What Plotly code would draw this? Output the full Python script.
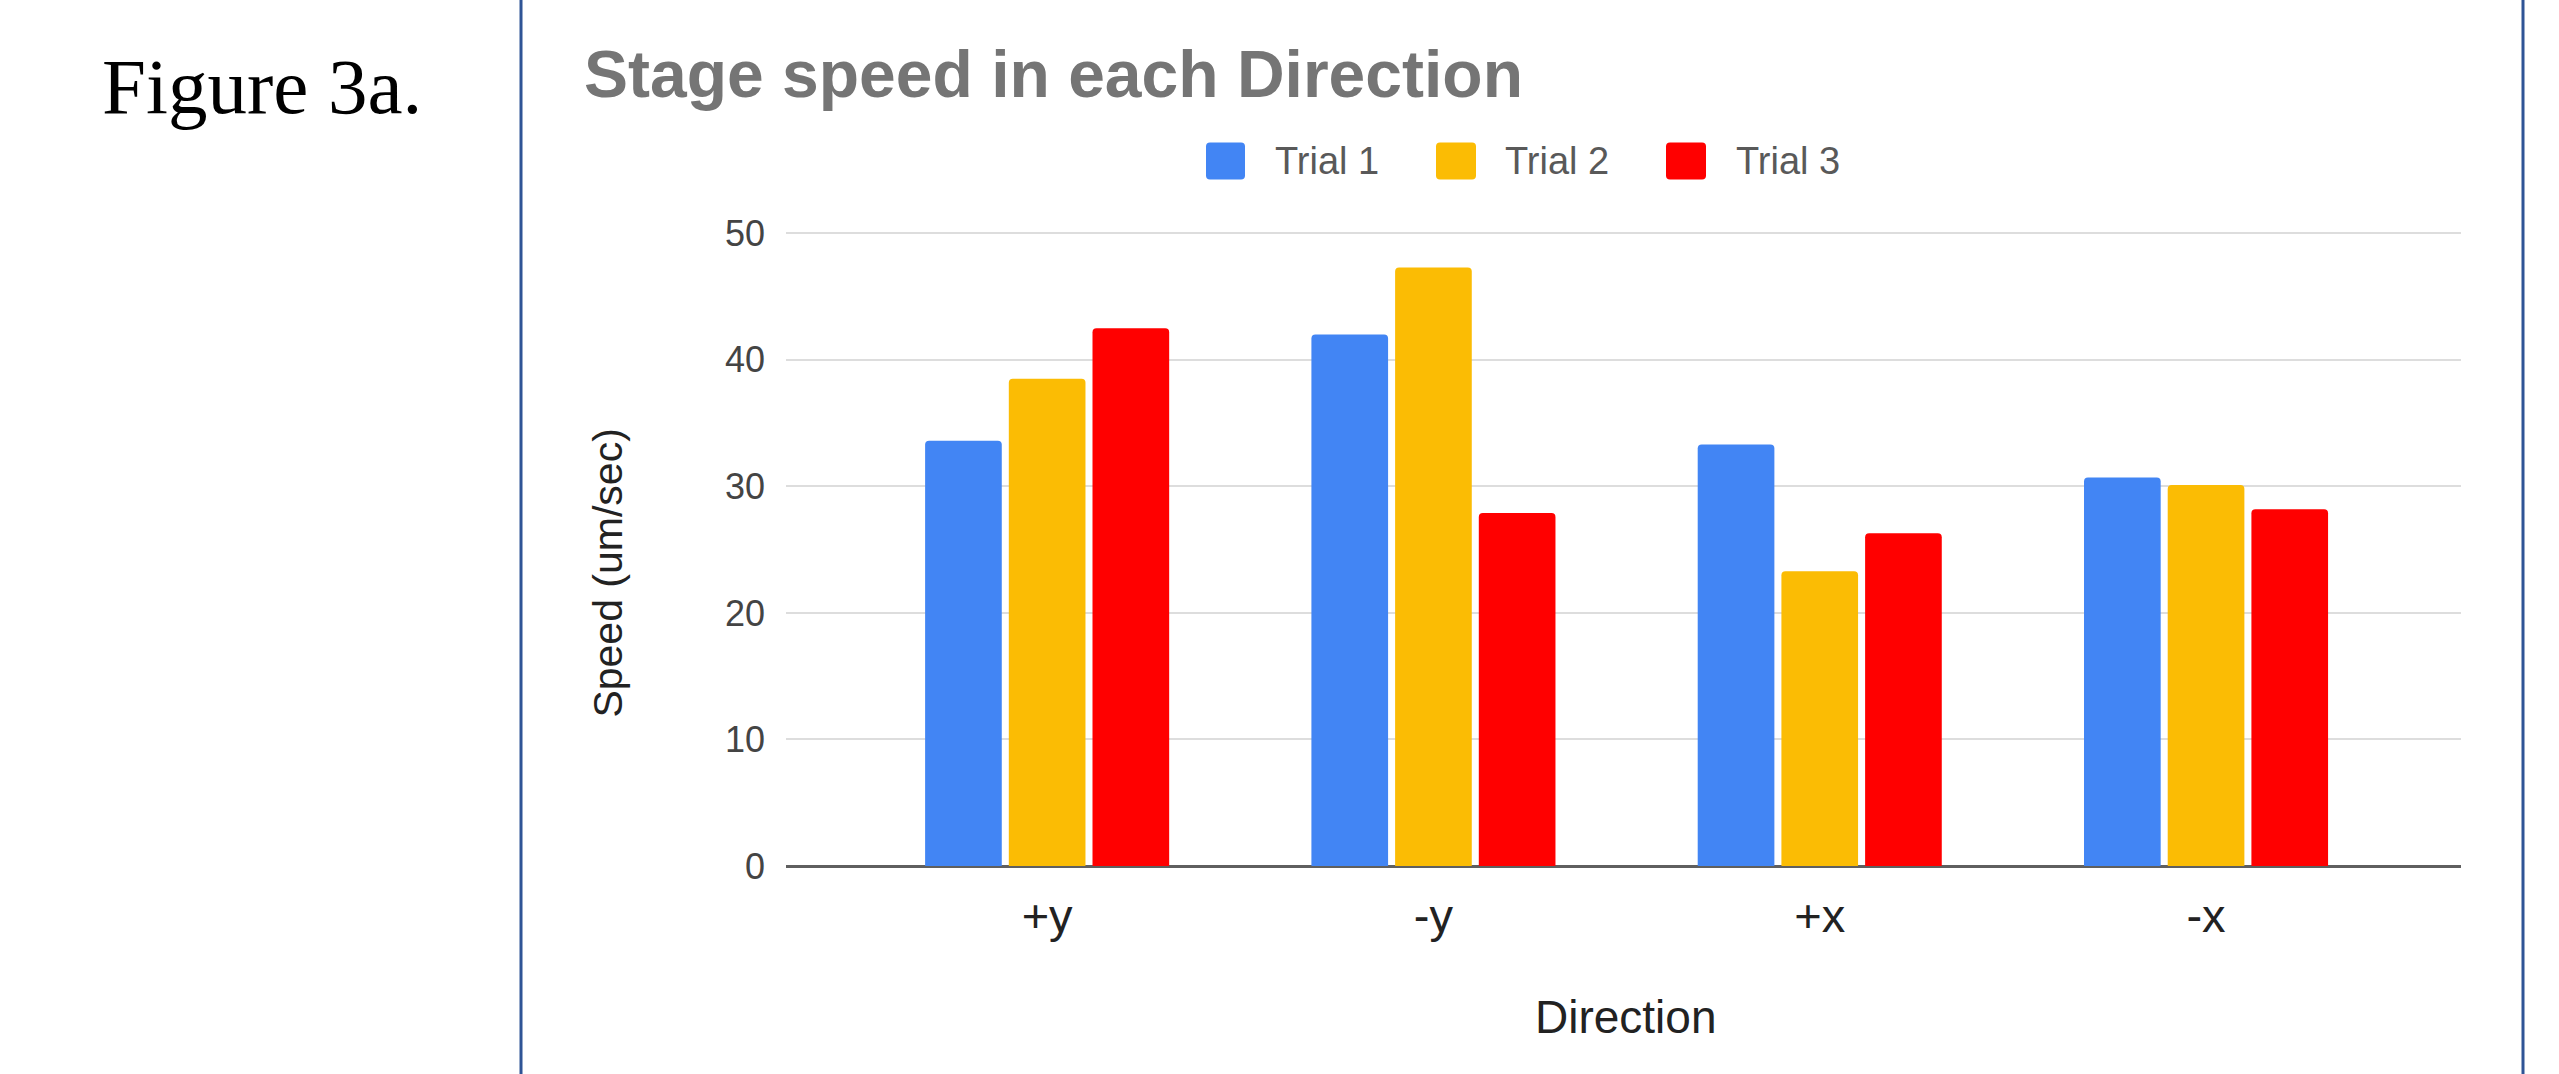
import plotly.graph_objects as go

# ---- data ----
directions = ["+y", "-y", "+x", "-x"]
trial_1 = [33.6, 42.0, 33.3, 30.7]
trial_2 = [38.5, 47.3, 23.3, 30.1]
trial_3 = [42.5, 27.9, 26.3, 28.2]
series_names = ["Trial 1", "Trial 2", "Trial 3"]
y_ticks = [0, 10, 20, 30, 40, 50]

colors = ["#4285F4", "#FBBC04", "#FF0000"]

W, H = 2559, 1074
Y_MAX = 50.1
L, R, B = 786, 2461, 866
T = 233.3 - (Y_MAX - 50) * (B - 233.3) / 50


def px(xp):
    return (xp - L) / (R - L)


def py(yp):
    return (B - yp) / (B - T)


def rounded_rect(x0, y0, x1, y1, r):
    # path in paper coords; r given in px
    rx = r / (R - L)
    ry = r / (B - T)
    X0, X1 = px(x0), px(x1)
    Y0, Y1 = py(y1), py(y0)  # bottom, top
    return (f"M{X0+rx},{Y0} L{X1-rx},{Y0} Q{X1},{Y0} {X1},{Y0+ry} "
            f"L{X1},{Y1-ry} Q{X1},{Y1} {X1-rx},{Y1} L{X0+rx},{Y1} "
            f"Q{X0},{Y1} {X0},{Y1-ry} L{X0},{Y0+ry} Q{X0},{Y0} {X0+rx},{Y0} Z")


SANS = "Liberation Sans, Arial, sans-serif"
SERIF = "Liberation Serif, Times New Roman, serif"

fig = go.Figure()
for name, vals, col in zip(series_names, [trial_1, trial_2, trial_3], colors):
    fig.add_trace(go.Bar(
        x=directions, y=vals, name=name,
        marker=dict(color=col, line=dict(width=0), cornerradius=4),
        showlegend=False,
    ))

shapes = []
# page border lines
for xp in (521, 2523):
    shapes.append(dict(type="line", xref="paper", yref="paper",
                       x0=px(xp), x1=px(xp), y0=py(H + 5), y1=py(-5),
                       line=dict(color="#2F5496", width=3), layer="above"))

annotations = []
# manual legend
legend_sq = [(1206, 1245), (1436, 1476), (1666, 1706)]
legend_tx = [1276, 1506, 1737]
for (a, b), tx, col, name in zip(legend_sq, legend_tx, colors, series_names):
    shapes.append(dict(type="path", xref="paper", yref="paper",
                       path=rounded_rect(a, 142.5, b, 179.5, 4),
                       fillcolor=col, line=dict(width=0), layer="above"))
    annotations.append(dict(text=name, xref="paper", yref="paper",
                            x=px(tx - 3), y=py(161), xanchor="left", yanchor="middle",
                            showarrow=False, font=dict(family=SANS, size=38, color="#595959")))

# axis titles
annotations.append(dict(text="Direction", xref="paper", yref="paper",
                        x=px(1626), y=py(1017), xanchor="center", yanchor="middle",
                        showarrow=False, font=dict(family=SANS, size=46, color="#222222")))
annotations.append(dict(text="Speed (um/sec)", xref="paper", yref="paper",
                        x=px(608), y=py(573.6), xanchor="center", yanchor="middle",
                        textangle=-90, showarrow=False,
                        font=dict(family=SANS, size=41, color="#222222")))
# figure label
annotations.append(dict(text="Figure 3a.", xref="paper", yref="paper",
                        x=px(100), y=py(87), xanchor="left", yanchor="middle",
                        showarrow=False, font=dict(family=SERIF, size=79, color="#000000")))

fig.update_layout(
    width=W, height=H,
    margin=dict(l=L, r=W - R, t=T, b=H - B, autoexpand=False),
    paper_bgcolor="white", plot_bgcolor="white",
    barmode="group", bargap=0.35, bargroupgap=0.084,
    title=dict(text="<b>Stage speed in each Direction</b>",
               xref="container", x=584 / W, xanchor="left",
               yref="container", y=1 - 74 / H, yanchor="middle",
               font=dict(family=SANS, size=66, color="#757575")),
    xaxis=dict(type="category", range=[-0.676, 3.66], showgrid=False,
               showline=False, ticks="", automargin=False,
               tickfont=dict(family=SANS, size=47, color="#222222"),
               ticklabelstandoff=18),
    yaxis=dict(range=[0, Y_MAX], tickvals=y_ticks, showgrid=True,
               gridcolor="#dddddd", gridwidth=2,
               zeroline=True, zerolinecolor="#5f5f5f", zerolinewidth=3,
               showline=False, ticks="", automargin=False,
               tickfont=dict(family=SANS, size=36, color="#444444"),
               ticklabelstandoff=20),
    shapes=shapes,
    annotations=annotations,
)

fig.write_html("out.html")
